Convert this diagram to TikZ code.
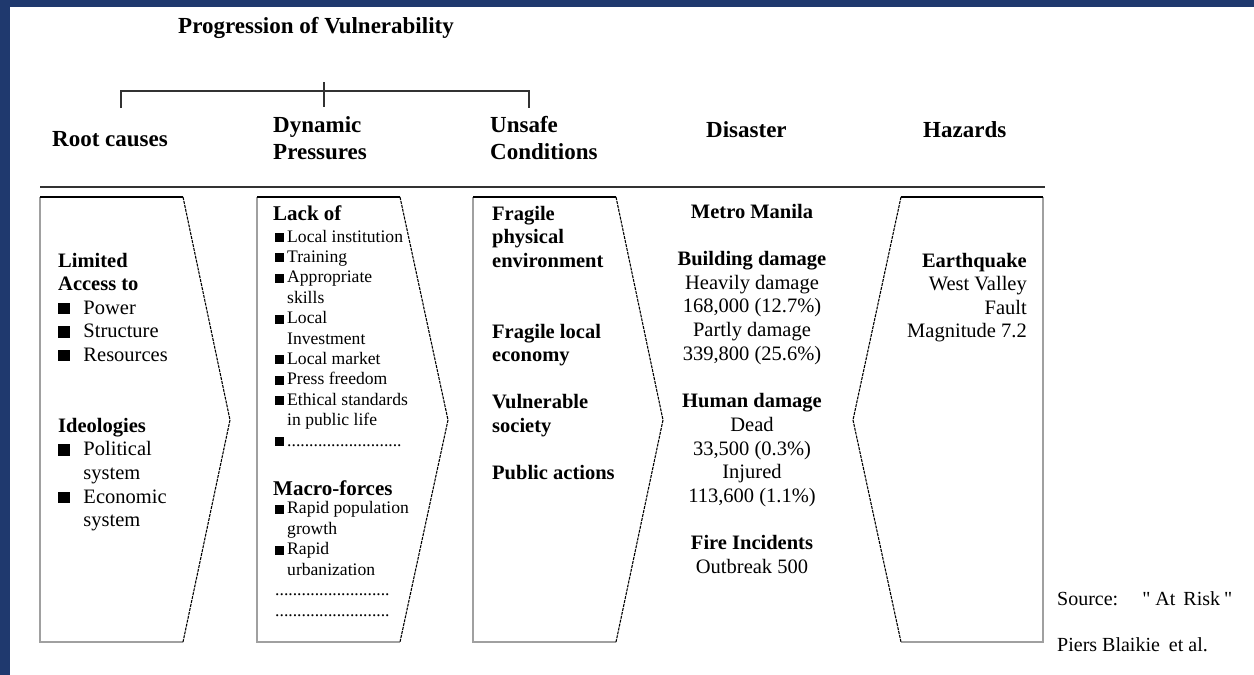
\documentclass[tikz,border=0pt]{standalone}
\usepackage{fontspec}
\setmainfont{Liberation Serif}
\newfontfamily\srcfont{Liberation Serif}
\definecolor{frameblue}{RGB}{31,57,110}
\definecolor{edgegray}{RGB}{160,160,160}
\definecolor{rulegray}{RGB}{50,50,50}
\newcommand{\sqA}{\makebox[25.3pt][l]{\rule{11.5pt}{11.5pt}}}
\newcommand{\inA}{\hspace*{25.3pt}}
\newcommand{\sqB}{\makebox[12pt][l]{\rule{9pt}{9pt}}}
\newcommand{\inB}{\hspace*{12pt}}
\newcommand{\dotrow}{..........................}
\tikzset{
  hdr/.style={font=\fontsize{23}{26}\selectfont\bfseries, anchor=base west, inner sep=0pt},
  body/.style={font=\fontsize{20.5}{23.6}\selectfont, inner sep=0pt},
  boldbody/.style={font=\fontsize{20.5}{23.6}\selectfont\bfseries, inner sep=0pt},
  smallbody/.style={font=\fontsize{17.6}{20.4}\selectfont, inner sep=0pt},
  subhead/.style={font=\fontsize{21}{24}\selectfont\bfseries, inner sep=0pt, anchor=base west},
  srctext/.style={font=\srcfont\fontsize{20}{23}\selectfont, inner sep=0pt, anchor=base west},
  topedge/.style={draw=black, line width=1.3pt},
  shadowedge/.style={draw=edgegray, line width=2.2pt},
  slantedge/.style={draw=black, line width=1.1pt, dash pattern=on 3pt off 1pt},
  bracketline/.style={draw=rulegray, line width=1.3pt},
}
\begin{document}
\begin{tikzpicture}[x=1pt,y=-1pt]
\useasboundingbox (0,0) rectangle (1254,675);
\fill[white] (0,0) rectangle (1254,675);
\fill[frameblue] (0,0) rectangle (10,675);
\fill[frameblue] (0,0) rectangle (1254,7);

% title and bracket
\node[hdr] (title) at (178,33) {Progression of Vulnerability};
\coordinate (brL) at (121,91);
\coordinate (brR) at (529,91);
\coordinate (brC) at (324,82);
\draw[bracketline] ([yshift=-17pt]brL) -- (brL) -- (brR) -- ([yshift=-17pt]brR);
\draw[bracketline] (brC) -- ([yshift=-25pt]brC);

% headers
\node[hdr] (hroot) at (52,146.5) {Root causes};
\node[hdr] (hdyn1) at (273,132) {Dynamic};
\node[hdr] (hdyn2) at (273,159.5) {Pressures};
\node[hdr] (hun1) at (490,132) {Unsafe};
\node[hdr] (hun2) at (490,159.5) {Conditions};
\node[hdr] (hdis) at (706,137) {Disaster};
\node[hdr] (hhaz) at (923,137) {Hazards};

% long rule
\coordinate (ruleL) at (40,187);
\coordinate (ruleR) at (1045,187);
\draw[draw=rulegray, line width=2pt] (ruleL) -- (ruleR);

% box 1
\draw[shadowedge] (40,197) -- (40,642) -- (183,642);
\draw[topedge] (40,197) -- (183,197);
\draw[slantedge] (183,197) -- (230,420) -- (183,642);
% box 2
\draw[shadowedge] (257,197) -- (257,642) -- (400,642);
\draw[topedge] (257,197) -- (400,197);
\draw[slantedge] (400,197) -- (448,420) -- (400,642);
% box 3
\draw[shadowedge] (473,197) -- (473,642) -- (616,642);
\draw[topedge] (473,197) -- (616,197);
\draw[slantedge] (616,197) -- (663,420) -- (616,642);
% box 5 (hazards)
\draw[shadowedge] (1043,197) -- (1043,642) -- (901,642);
\draw[topedge] (901,197) -- (1043,197);
\draw[slantedge] (901,197) -- (853,420) -- (901,642);

% box 1 text
\foreach \t [count=\i from 0] in {{\bfseries Limited},{\bfseries Access to},{\sqA Power},{\sqA Structure},{\sqA Resources},{},{},{\bfseries Ideologies},{\sqA Political},{\inA system},{\sqA Economic},{\inA system}}
  \node[body, anchor=base west] (rc\i) at (58,267+\i*23.6) {\t};

% box 2 text
\node[subhead] (lack) at (273,220) {Lack of};
\foreach \t [count=\i from 0] in {{\sqB Local institution},{\sqB Training},{\sqB Appropriate},{\inB skills},{\sqB Local},{\inB Investment},{\sqB Local market},{\sqB Press freedom},{\sqB Ethical standards},{\inB in public life},{\sqB\dotrow}}
  \node[smallbody, anchor=base west] (dp\i) at (275,242+\i*20.4) {\t};
\node[subhead] (macro) at (273,495) {Macro-forces};
\foreach \t [count=\i from 0] in {{\sqB Rapid population},{\inB growth},{\sqB Rapid},{\inB urbanization},{\dotrow},{\dotrow}}
  \node[smallbody, anchor=base west] (mf\i) at (275,513.5+\i*20.5) {\t};

% box 3 text
\foreach \t [count=\i from 0] in {Fragile,physical,environment,{},{},Fragile local,economy,{},Vulnerable,society,{},Public actions}
  \node[boldbody, anchor=base west] (uc\i) at (492,220+\i*23.6) {\t};

% disaster column
\foreach \t [count=\i from 0] in {{\bfseries Metro Manila},{},{\bfseries Building damage},{Heavily damage},{168,000 (12.7\%)},{Partly damage},{339,800 (25.6\%)},{},{\bfseries Human damage},{Dead},{33,500 (0.3\%)},{Injured},{113,600 (1.1\%)},{},{\bfseries Fire Incidents},{Outbreak 500}}
  \node[body, anchor=base] (ds\i) at (752,218+\i*23.7) {\t};

% hazards
\foreach \t [count=\i from 0] in {{\bfseries Earthquake},{West Valley},{Fault},{Magnitude 7.2}}
  \node[body, anchor=base east] (hz\i) at (1027,267+\i*23.6) {\t};

% source
\node[srctext] (src1) at (1057,605) {Source:\hspace{24pt}"\hspace{5pt}At\hspace{8pt}Risk\hspace{4pt}"};
\node[srctext] (src2) at (1057,651) {Piers Blaikie\hspace{9pt}et al.};
\end{tikzpicture}
\end{document}
